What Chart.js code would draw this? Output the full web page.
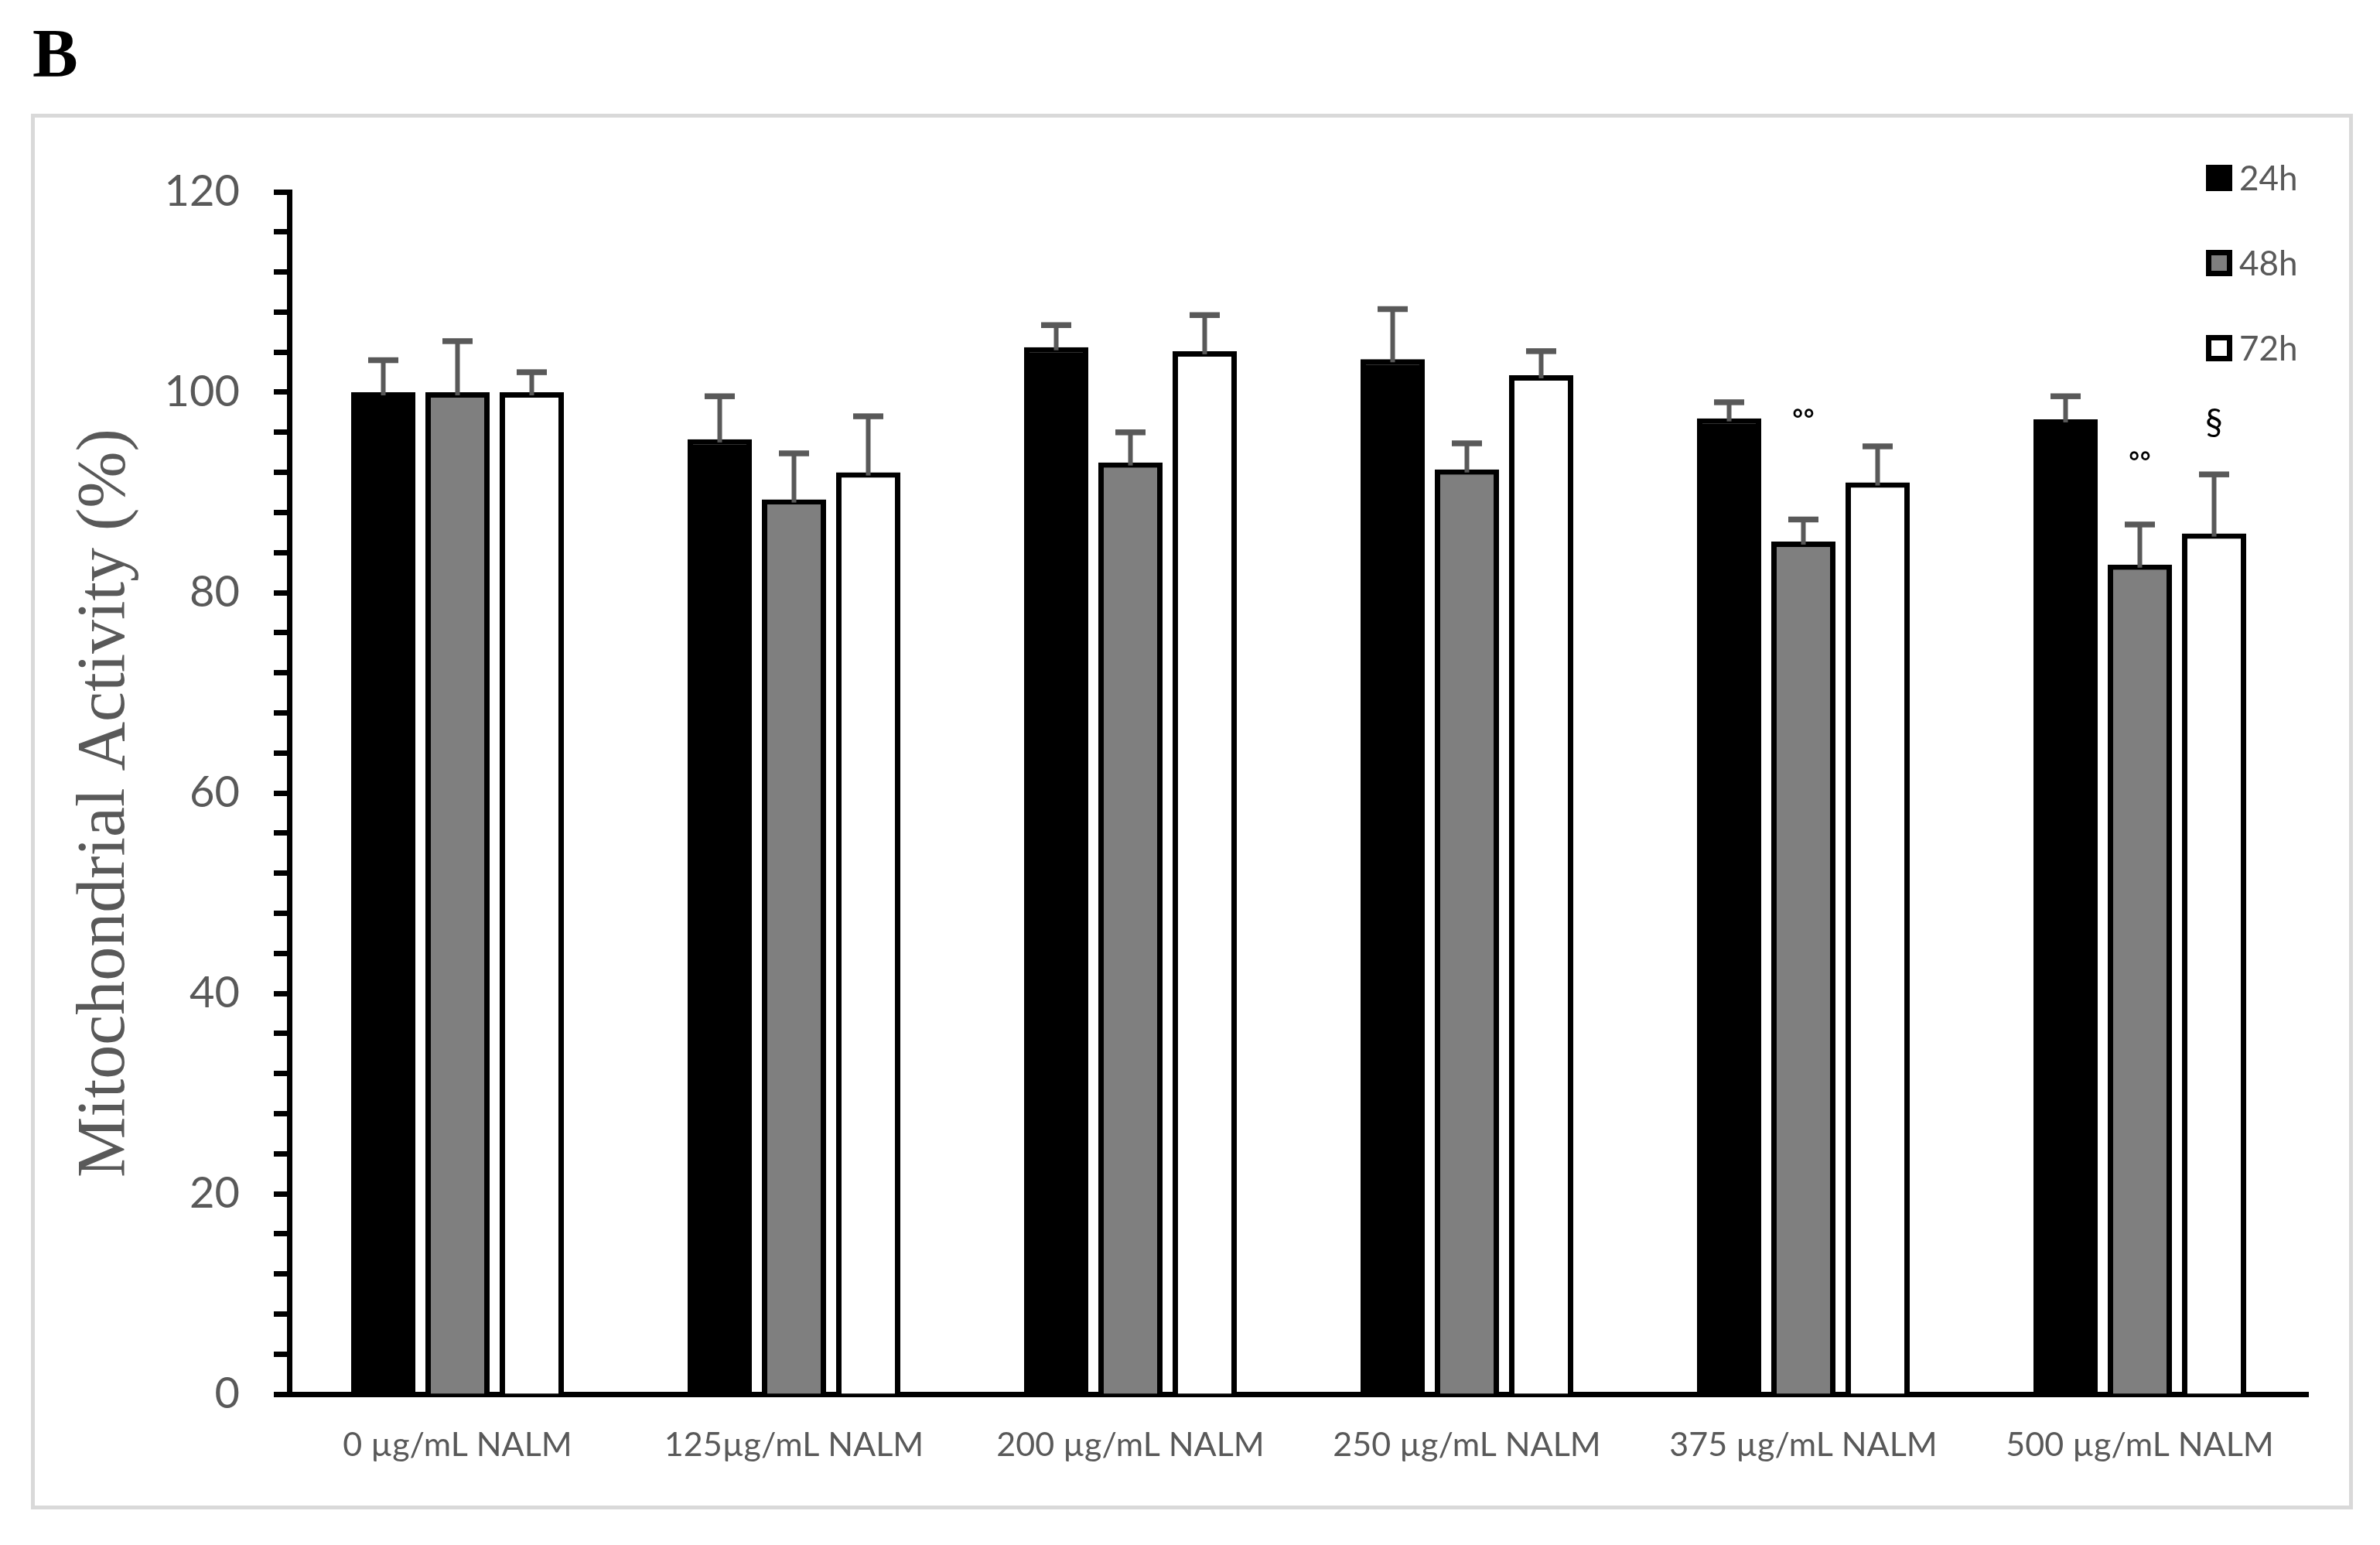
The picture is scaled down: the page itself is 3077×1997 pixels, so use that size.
<!DOCTYPE html>
<html>
<head>
<meta charset="utf-8">
<title>Mitochondrial Activity</title>
<script src="https://cdn.jsdelivr.net/npm/chart.js@4.4.1/dist/chart.umd.min.js"></script>
<style>
    html, body { margin: 0; padding: 0; background: #fff; }
    #wrap { width: 3077px; height: 1997px; }
</style>
</head>
<body>
<div id="wrap"><canvas id="bar-chart" width="3077" height="1997"></canvas></div>
<script>
let categories = ["0 µg/mL NALM", "125µg/mL NALM", "200 µg/mL NALM", "250 µg/mL NALM", "375 µg/mL NALM", "500 µg/mL NALM"];
let seriesNames = ["24h", "48h", "72h"];

let values24h = [100, 95.3, 104.5, 103.3, 97.4, 97.3];
let values48h = [100, 89.3, 93.0, 92.3, 85.1, 82.8];
let values72h = [100, 92.0, 104.1, 101.7, 91.0, 85.9];

let err24h = [3.2, 4.3, 2.2, 5.0, 1.6, 2.3];
let err48h = [5.1, 4.6, 3.0, 2.6, 2.2, 4.0];
let err72h = [2.0, 5.6, 3.6, 2.4, 3.6, 5.9];

let yTicks = [0, 20, 40, 60, 80, 100, 120];

// significance marks: category index, series index, y value, text
let marks = [
    [4, 1, 97.1, "°°"],
    [5, 1, 92.9, "°°"],
    [5, 2, 97.0, "§"]
];

let errors = [err24h, err48h, err72h];
let fills = ["#000000", "#7f7f7f", "#ffffff"];
let grey = "#595959";

Chart.defaults.font.family = "Lato, 'Open Sans', sans-serif";

let extras = {
    id: 'extras',
    beforeDraw(chart) {
        let ctx = chart.ctx;
        ctx.save();
        ctx.fillStyle = "#fff";
        ctx.fillRect(0, 0, chart.width, chart.height);

        // panel frame
        ctx.strokeStyle = "#d9d9d9";
        ctx.lineWidth = 5;
        ctx.strokeRect(42.5, 149.5, 2997, 1799);

        // panel letter
        ctx.fillStyle = "#000";
        ctx.font = "bold 88px 'Liberation Serif'";
        ctx.textAlign = "left";
        ctx.textBaseline = "alphabetic";
        ctx.fillText("B", 42, 98);
        ctx.restore();
    },
    afterDatasetsDraw(chart) {
        let ctx = chart.ctx;
        let yScale = chart.scales.y;
        ctx.save();
        ctx.fillStyle = grey;
        chart.data.datasets.forEach((ds, i) => {
            let meta = chart.getDatasetMeta(i);
            meta.data.forEach((bar, j) => {
                let top = yScale.getPixelForValue(ds.data[j] + errors[i][j]);
                ctx.fillRect(bar.x - 3, top, 6, bar.y - top + 4);
                ctx.fillRect(bar.x - 19.5, top - 3.75, 39, 7.5);
            });
        });

        ctx.fillStyle = "#000";
        ctx.textAlign = "center";
        ctx.textBaseline = "middle";
        marks.forEach(m => {
            let bar = chart.getDatasetMeta(m[1]).data[m[0]];
            let y = yScale.getPixelForValue(m[2]);
            ctx.font = m[3] === "§" ? "46px Lato" : "bold 36px 'Liberation Sans'";
            ctx.fillText(m[3], bar.x, y);
        });
        ctx.restore();
    },
    afterDraw(chart) {
        let ctx = chart.ctx;
        ctx.save();

        // legend
        let boxY = [230, 340, 450];
        seriesNames.forEach((name, i) => {
            ctx.fillStyle = "#000";
            ctx.fillRect(2852, boxY[i] - 17, 34, 34);
            if (i > 0) {
                ctx.fillStyle = fills[i];
                ctx.fillRect(2859, boxY[i] - 10, 20, 20);
            }
            ctx.fillStyle = grey;
            ctx.font = "44px Lato";
            ctx.textAlign = "left";
            ctx.textBaseline = "middle";
            ctx.fillText(name, 2895, boxY[i] + 2);
        });

        // y axis title
        ctx.translate(160, 1038);
        ctx.rotate(-Math.PI / 2);
        ctx.fillStyle = grey;
        ctx.font = "88px 'Liberation Serif'";
        ctx.textAlign = "center";
        ctx.textBaseline = "alphabetic";
        ctx.fillText("Mitochondrial Activity (%)", 0, 0);
        ctx.restore();
    }
};

let barChartEl = document.getElementById('bar-chart');

let config = {
    type: "bar",
    data: {
        labels: categories,
        datasets: [
            {
                label: seriesNames[0],
                data: values24h,
                backgroundColor: fills[0],
                borderColor: "#000",
                borderWidth: 7,
                categoryPercentage: 0.662,
                barPercentage: 0.865
            },
            {
                label: seriesNames[1],
                data: values48h,
                backgroundColor: fills[1],
                borderColor: "#000",
                borderWidth: 7,
                categoryPercentage: 0.662,
                barPercentage: 0.865
            },
            {
                label: seriesNames[2],
                data: values72h,
                backgroundColor: fills[2],
                borderColor: "#000",
                borderWidth: 7,
                categoryPercentage: 0.662,
                barPercentage: 0.865
            }
        ]
    },
    options: {
        responsive: false,
        animation: false,
        layout: {
            padding: { top: 248, right: 93, left: 0, bottom: 0 }
        },
        plugins: {
            legend: { display: false },
            tooltip: { enabled: false }
        },
        scales: {
            x: {
                grid: { display: false, drawTicks: false },
                border: { display: true, color: "#000", width: 7 },
                ticks: {
                    color: grey,
                    font: { size: 43 },
                    padding: 40,
                    maxRotation: 0,
                    autoSkip: false
                },
                afterFit: s => { s.height = 195; }
            },
            y: {
                min: 0,
                max: 120,
                ticks: {
                    stepSize: 4,
                    autoSkip: false,
                    color: grey,
                    font: { size: 56 },
                    padding: 44,
                    callback: v => yTicks.includes(v) ? v : ''
                },
                grid: {
                    display: true,
                    drawOnChartArea: false,
                    drawTicks: true,
                    tickLength: 20,
                    tickColor: "#000",
                    tickWidth: 7
                },
                border: { display: true, color: "#000", width: 7 },
                afterFit: s => { s.width = 374; }
            }
        }
    },
    plugins: [extras]
};

let barChart = new Chart(barChartEl, config);
</script>
</body>
</html>
